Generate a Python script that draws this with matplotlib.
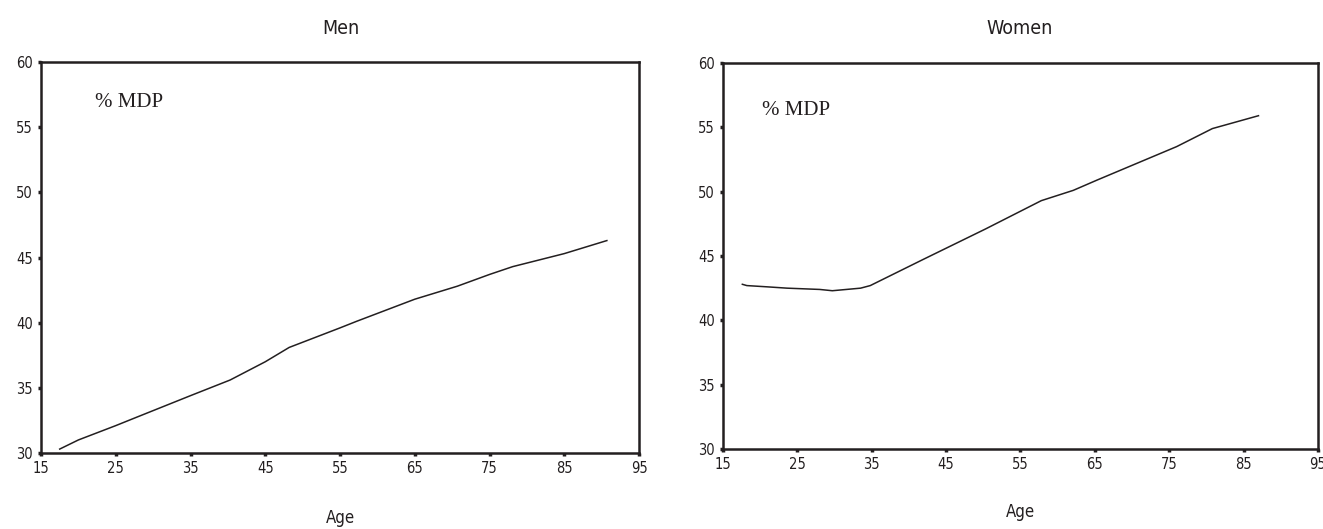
import matplotlib
matplotlib.use('Agg')
import matplotlib.pyplot as plt

# Values (age, % MDP)
men_age = [17.5, 20.0, 25.0, 27.6, 35.0, 40.3, 45.0, 48.2, 55.0, 57.2, 65.0, 70.7, 75.0, 78.1, 85.0, 90.7]
men_mdp = [30.3, 31.0, 32.1, 32.7, 34.4, 35.6, 37.0, 38.1, 39.6, 40.1, 41.8, 42.8, 43.7, 44.3, 45.3, 46.3]

women_age = [17.6, 18.2, 21.0, 23.6, 28.0, 29.7, 31.6, 33.5, 34.8, 41.8, 50.3, 57.8, 62.1, 65.3, 76.0, 80.8, 87.0]
women_mdp = [42.8, 42.7, 42.6, 42.5, 42.4, 42.3, 42.4, 42.5, 42.7, 44.7, 47.1, 49.3, 50.1, 50.9, 53.5, 54.9, 55.9]

x_ticks = [15, 25, 35, 45, 55, 65, 75, 85, 95]
y_ticks = [30, 35, 40, 45, 50, 55, 60]

panels = [
    ('Men', men_age, men_mdp, [0.031, 0.1437, 0.452, 0.739], 0.258, (22.2, 56.9)),
    ('Women', women_age, women_mdp, [0.5465, 0.1512, 0.4497, 0.7298], 0.771, (20.2, 56.3)),
]

ink = '#231f20'
narrow = dict(family=['DejaVu Sans'], stretch='condensed')

fig = plt.figure(figsize=(13.23, 5.29), dpi=100)

for title, ages, vals, rect, cx, label_pos in panels:
    ax = fig.add_axes(rect)
    ax.plot(ages, vals, color=ink, lw=1.1)
    ax.set_xlim(15, 95)
    ax.set_ylim(30, 60)
    ax.set_xticks(x_ticks)
    ax.set_yticks(y_ticks)
    ax.set_xticklabels([str(t) for t in x_ticks], fontsize=10.5, **narrow)
    ax.set_yticklabels([str(t) for t in y_ticks], fontsize=10.5, **narrow)
    ax.tick_params(direction='out', length=2.5, width=2.5, color=ink, pad=3.5, labelcolor=ink)
    for sp in ax.spines.values():
        sp.set_linewidth(1.8)
        sp.set_color(ink)
    ax.text(label_pos[0], label_pos[1], '% MDP', family='Liberation Serif',
            fontsize=15, color=ink, ha='left', va='center')
    # panel title sits centred over each panel
    fig.text(cx, 1 - 28 / 529, title, fontsize=14, color=ink,
             ha='center', va='center', **narrow)

fig.text(0.257, 1 - 518 / 529, 'Age', fontsize=12, color=ink, ha='center', va='center', **narrow)
fig.text(0.771, 1 - 512 / 529, 'Age', fontsize=12, color=ink, ha='center', va='center', **narrow)

fig.savefig('out.png', dpi=100)
